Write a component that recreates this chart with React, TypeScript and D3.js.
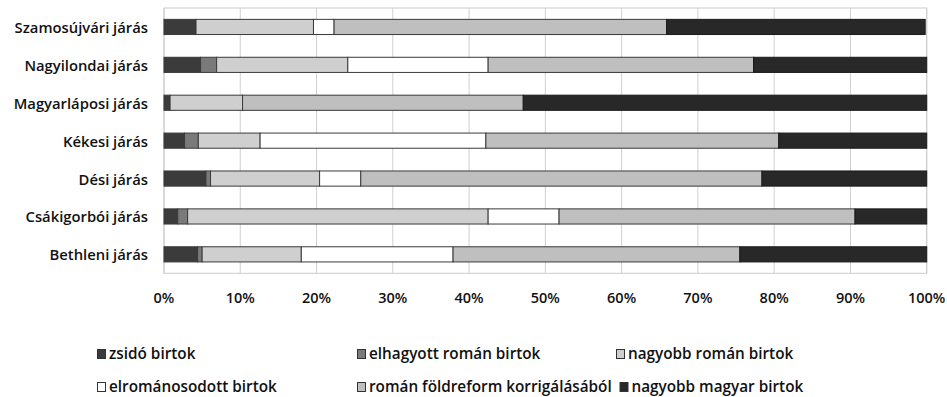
import React from "react";
import * as d3 from "d3";

const categories = [
  "Szamosújvári járás",
  "Nagyilondai járás",
  "Magyarláposi járás",
  "Kékesi járás",
  "Dési járás",
  "Csákigorbói járás",
  "Bethleni járás",
];

const seriesNames = [
  "zsidó birtok",
  "elhagyott román birtok",
  "nagyobb román birtok",
  "elrománosodott birtok",
  "román földreform korrigálásából",
  "nagyobb magyar birtok",
];

const zsido = [4.2, 4.8, 0.8, 2.7, 5.5, 1.8, 4.4];
const elhagyott = [0, 2.1, 0, 1.8, 0.6, 1.3, 0.6];
const nagyobbRoman = [15.4, 17.2, 9.5, 8.1, 14.3, 39.4, 13.0];
const elromanosodott = [2.7, 18.4, 0, 29.6, 5.4, 9.3, 19.9];
const korrigalas = [43.6, 34.8, 36.8, 38.4, 52.6, 38.8, 37.6];
const magyar = [33.9, 22.7, 52.9, 19.4, 21.6, 9.4, 24.5];

const ticks = [0, 10, 20, 30, 40, 50, 60, 70, 80, 90, 100];
const colors = ["#3b3b3b", "#7a7a7a", "#cfcfcf", "#ffffff", "#bfbfbf", "#282828"];

export default function App() {
  const W = 947, H = 397;
  const x0 = 164, x1 = 926.7, yTop = 8, yBot = 273.3;
  const x = d3.scaleLinear().domain([0, 100]).range([x0, x1]);
  const y = d3.scaleBand().domain(categories).range([yTop, yBot]).paddingInner(0.6).paddingOuter(0.3);
  const seriesData = [zsido, elhagyott, nagyobbRoman, elromanosodott, korrigalas, magyar];
  const rows = categories.map((c, i) => {
    const o: any = { cat: c };
    seriesNames.forEach((s, k) => (o[s] = seriesData[k][i]));
    return o;
  });
  const stack = d3.stack().keys(seriesNames)(rows);
  const font = "'Open Sans', Lato, sans-serif";
  const fw = 600;

  const legendPos = [
    [97, 353], [357, 353], [616, 353],
    [97, 386], [357, 386], [619.5, 386],
  ];

  return (
    <svg width={W} height={H} style={{ position: "absolute", left: 0, top: 0 }}>
      <rect width={W} height={H} fill="#fff" />
      {ticks.map((t) => (
        <line key={t} x1={x(t)} x2={x(t)} y1={yTop} y2={yBot} stroke="#d0d0d0" strokeWidth={1} />
      ))}
      <rect x={x0} y={yTop} width={x1 - x0} height={yBot - yTop} fill="none" stroke="#cccccc" strokeWidth={1} />
      {stack.map((s, k) =>
        s.map((d, i) =>
          d[1] - d[0] > 0 ? (
            <rect
              key={k + "-" + i}
              x={x(d[0])}
              y={y(categories[i])}
              width={x(d[1]) - x(d[0])}
              height={y.bandwidth()}
              fill={colors[k]}
              stroke={k === 5 ? "#1a1a1a" : "#3a3a3a"}
              strokeWidth={1}
            />
          ) : null
        )
      )}
      {categories.map((c) => (
        <text
          key={c}
          x={148}
          y={(y(c) as number) + y.bandwidth() / 2}
          textAnchor="end"
          dominantBaseline="central"
          fontFamily={font}
          fontWeight={fw}
          fontSize={14.8}
          fill="#111"
        >
          {c}
        </text>
      ))}
      {ticks.map((t) => (
        <text
          key={"t" + t}
          x={x(t)}
          y={297}
          textAnchor="middle"
          dominantBaseline="central"
          fontFamily={font}
          fontWeight={fw}
          fontSize={14.5}
          fill="#111"
        >
          {t + "%"}
        </text>
      ))}
      {seriesNames.map((s, k) => (
        <g key={s}>
          <rect
            x={legendPos[k][0] + 0.5}
            y={legendPos[k][1] - 3.5}
            width={8}
            height={9}
            fill={colors[k]}
            stroke="#333"
            strokeWidth={1}
          />
          <text
            x={legendPos[k][0] + 12}
            y={legendPos[k][1]}
            dominantBaseline="central"
            fontFamily={font}
            fontWeight={fw}
            fontSize={15.3}
            fill="#111"
          >
            {s}
          </text>
        </g>
      ))}
    </svg>
  );
}
